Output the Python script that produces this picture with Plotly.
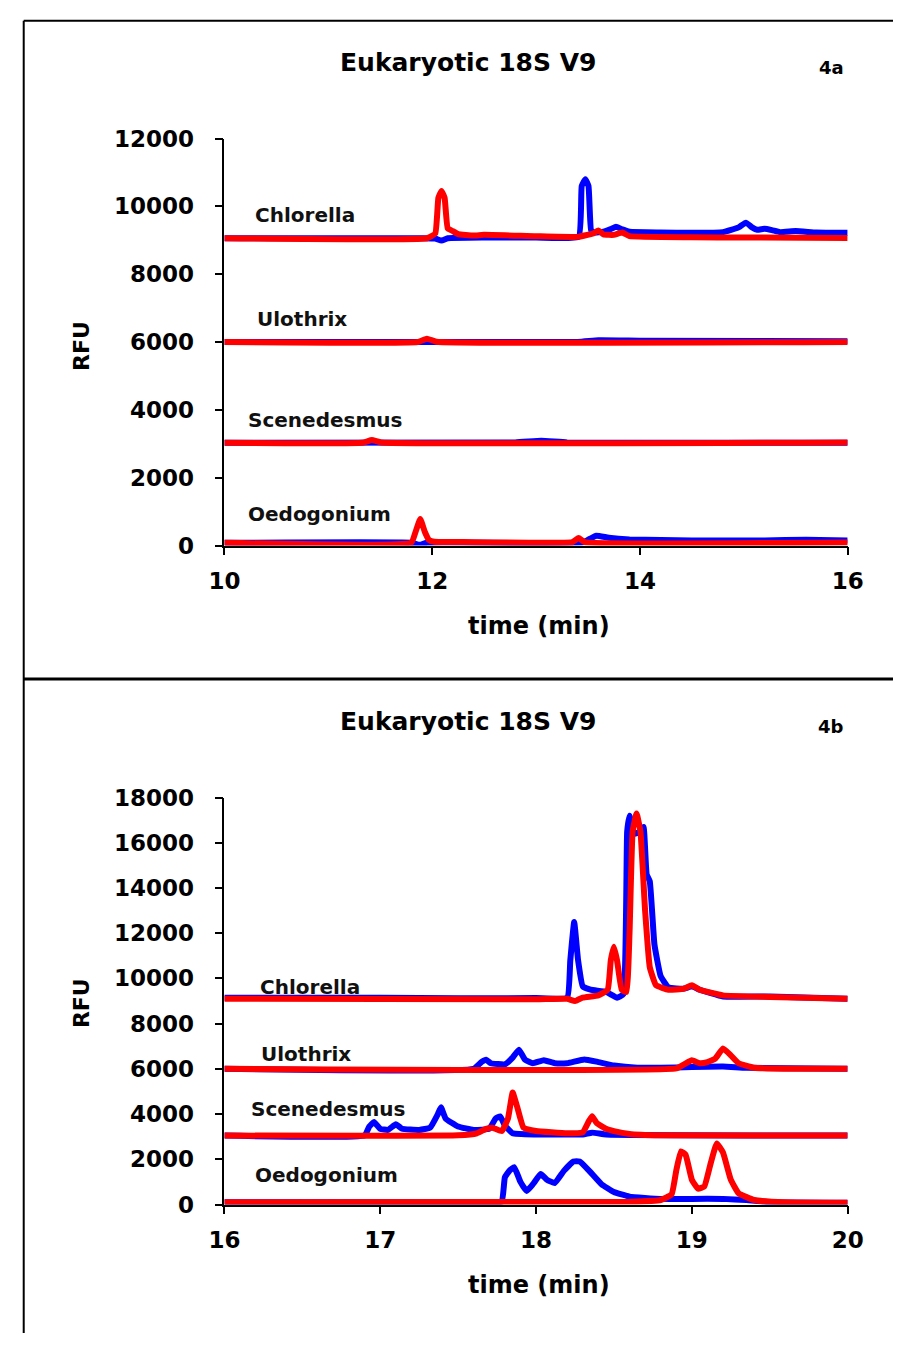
import plotly.graph_objects as go

W, H = 909, 1346

# ---------------- data ----------------
species = ["Chlorella", "Ulothrix", "Scenedesmus", "Oedogonium"]
title_text = "Eukaryotic 18S V9"
panel_tags = ["4a", "4b"]

a_xticks = [10, 12, 14, 16]
a_yticks = [0, 2000, 4000, 6000, 8000, 10000, 12000]
b_xticks = [16, 17, 18, 19, 20]
b_yticks = [0, 2000, 4000, 6000, 8000, 10000, 12000, 14000, 16000, 18000]

# Panel 4a (time 10-16 min)
a_chl_blue_t = [10, 11.9, 12.03, 12.09, 12.15, 12.5, 13.0, 13.41, 13.44, 13.475, 13.505, 13.53, 13.56, 13.65, 13.72, 13.77, 13.83, 13.9, 14.2, 14.5, 14.8, 14.95, 15.02, 15.08, 15.13, 15.2, 15.27, 15.35, 15.5, 15.7, 16.0]
a_chl_blue_v = [9060, 9060, 9050, 8990, 9060, 9080, 9080, 9100, 10600, 10800, 10600, 9300, 9230, 9250, 9330, 9400, 9320, 9250, 9230, 9220, 9240, 9380, 9520, 9380, 9310, 9340, 9300, 9240, 9270, 9230, 9220]
a_chl_red_t = [10, 11.95, 12.03, 12.06, 12.09, 12.12, 12.15, 12.2, 12.25, 12.4, 12.5, 13.0, 13.4, 13.55, 13.6, 13.65, 13.75, 13.83, 13.9, 14.5, 15.0, 16.0]
a_chl_red_v = [9060, 9060, 9200, 10250, 10450, 10250, 9350, 9270, 9180, 9140, 9160, 9120, 9100, 9200, 9290, 9170, 9160, 9230, 9120, 9090, 9080, 9070]
a_ulo_blue_t = [10, 13.4, 13.6, 14.0, 16]
a_ulo_blue_v = [6000, 6000, 6050, 6040, 6020]
a_ulo_red_t = [10, 11.86, 11.95, 12.04, 16]
a_ulo_red_v = [6000, 6000, 6100, 6010, 6000]
a_sce_blue_t = [10, 12.8, 13.05, 13.3, 16]
a_sce_blue_v = [3030, 3040, 3090, 3040, 3030]
a_sce_red_t = [10, 11.33, 11.42, 11.51, 16]
a_sce_red_v = [3030, 3030, 3110, 3040, 3040]
a_oed_blue_t = [10, 11.8, 11.88, 11.95, 13.45, 13.52, 13.58, 13.7, 13.9, 14.5, 15.2, 15.6, 16]
a_oed_blue_v = [80, 80, 20, 80, 90, 200, 290, 230, 180, 150, 150, 170, 150]
a_oed_red_t = [10, 11.8, 11.84, 11.885, 11.93, 11.97, 12.02, 12.3, 13.35, 13.41, 13.47, 16]
a_oed_red_v = [80, 90, 400, 780, 400, 160, 110, 100, 100, 220, 100, 90]

# Panel 4b (time 16-20 min)
b_chl_blue_t = [16, 17, 17.5, 18.0, 18.2, 18.22, 18.245, 18.27, 18.3, 18.35, 18.45, 18.52, 18.56, 18.585, 18.6, 18.63, 18.67, 18.69, 18.71, 18.73, 18.76, 18.8, 18.85, 18.95, 19.0, 19.05, 19.2, 19.5, 20]
b_chl_blue_v = [9150, 9150, 9120, 9130, 9150, 10800, 12500, 10800, 9650, 9500, 9400, 9150, 9300, 16500, 17200, 16400, 16500, 16700, 14600, 14300, 11500, 10100, 9600, 9550, 9650, 9500, 9200, 9200, 9100]
b_chl_red_t = [16, 18.0, 18.2, 18.25, 18.3, 18.4, 18.46, 18.48, 18.5, 18.52, 18.55, 18.58, 18.6, 18.62, 18.645, 18.67, 18.7, 18.73, 18.77, 18.85, 18.95, 19.0, 19.05, 19.2, 19.5, 20]
b_chl_red_v = [9100, 9080, 9100, 9000, 9150, 9250, 9500, 10800, 11400, 10800, 9500, 9400, 12000, 16500, 17300, 16500, 13000, 10500, 9700, 9500, 9550, 9700, 9500, 9250, 9180, 9100]
b_ulo_blue_t = [16, 17.6, 17.65, 17.68, 17.71, 17.8, 17.85, 17.89, 17.93, 17.98, 18.05, 18.12, 18.2, 18.31, 18.4, 18.5, 18.65, 18.8, 19.0, 19.2, 19.35, 20]
b_ulo_blue_v = [6000, 6000, 6300, 6400, 6250, 6200, 6500, 6850, 6400, 6250, 6380, 6250, 6250, 6420, 6300, 6150, 6050, 6050, 6080, 6100, 6050, 6000]
b_ulo_red_t = [16, 18.9, 18.95, 19.0, 19.05, 19.1, 19.15, 19.2, 19.25, 19.3, 19.4, 20]
b_ulo_red_v = [6000, 6020, 6200, 6380, 6250, 6300, 6450, 6900, 6600, 6250, 6050, 6000]
b_sce_blue_t = [16, 16.9, 16.93, 16.96, 17.0, 17.05, 17.1, 17.14, 17.25, 17.32, 17.37, 17.39, 17.42, 17.5, 17.6, 17.7, 17.74, 17.77, 17.8, 17.85, 18.0, 18.3, 18.36, 18.45, 20]
b_sce_blue_v = [3050, 3060, 3450, 3650, 3350, 3300, 3550, 3350, 3300, 3400, 4000, 4300, 3800, 3450, 3300, 3350, 3800, 3900, 3500, 3150, 3100, 3100, 3180, 3100, 3050]
b_sce_red_t = [16, 17.5, 17.62, 17.68, 17.72, 17.78, 17.82, 17.85, 17.88, 17.92, 18.0, 18.2, 18.3, 18.34, 18.36, 18.39, 18.45, 18.5, 18.6, 18.8, 20]
b_sce_red_v = [3050, 3060, 3150, 3350, 3400, 3250, 3800, 4950, 4300, 3400, 3250, 3150, 3200, 3700, 3900, 3600, 3350, 3250, 3120, 3060, 3050]
b_oed_blue_t = [16, 17.7, 17.78, 17.8, 17.83, 17.86, 17.9, 17.94, 17.98, 18.03, 18.07, 18.12, 18.18, 18.24, 18.28, 18.34, 18.42, 18.5, 18.6, 18.8, 19.0, 19.2, 19.35, 19.5, 20]
b_oed_blue_v = [100, 100, 120, 1200, 1500, 1650, 1000, 600, 900, 1350, 1100, 950, 1500, 1900, 1900, 1500, 900, 550, 350, 250, 250, 250, 200, 100, 80]
b_oed_red_t = [16, 18.6, 18.8, 18.87, 18.9, 18.93, 18.96, 19.0, 19.04, 19.08, 19.12, 19.16, 19.2, 19.25, 19.3, 19.4, 19.6, 20]
b_oed_red_v = [100, 120, 200, 450, 1500, 2350, 2200, 1100, 700, 800, 1800, 2700, 2300, 1100, 500, 200, 100, 80]

# ---------------- figure ----------------
BLUE = "#0000ff"
RED = "#ff0000"
LW = 6

def px(x):
    return x / W

def py(y):
    return 1 - y / H

fig = go.Figure()

panel_a = {
    "blue": [(a_chl_blue_t, a_chl_blue_v), (a_ulo_blue_t, a_ulo_blue_v), (a_sce_blue_t, a_sce_blue_v), (a_oed_blue_t, a_oed_blue_v)],
    "red": [(a_chl_red_t, a_chl_red_v), (a_ulo_red_t, a_ulo_red_v), (a_sce_red_t, a_sce_red_v), (a_oed_red_t, a_oed_red_v)],
}
panel_b = {
    "blue": [(b_chl_blue_t, b_chl_blue_v), (b_ulo_blue_t, b_ulo_blue_v), (b_sce_blue_t, b_sce_blue_v), (b_oed_blue_t, b_oed_blue_v)],
    "red": [(b_chl_red_t, b_chl_red_v), (b_ulo_red_t, b_ulo_red_v), (b_sce_red_t, b_sce_red_v), (b_oed_red_t, b_oed_red_v)],
}

for panel, xa, ya in [(panel_a, "x", "y"), (panel_b, "x2", "y2")]:
    for col, color in [("blue", BLUE), ("red", RED)]:
        for name, (t, v) in zip(species, panel[col]):
            fig.add_trace(go.Scatter(
                x=t, y=v, mode="lines", xaxis=xa, yaxis=ya, name=name,
                line=dict(color=color, width=LW, shape="spline", smoothing=0.35),
                showlegend=False, hoverinfo="skip"))

tickfont = dict(family="DejaVu Sans", size=23, color="black", weight="bold")
axis_common = dict(showline=True, linecolor="black", linewidth=1.5, ticks="outside",
                   ticklen=8, tickwidth=1.5, tickcolor="black", showgrid=False,
                   zeroline=False, tickfont=tickfont, fixedrange=True, tickformat="d")

xdom = [px(216), px(862)]
fig.update_layout(
    width=W, height=H, margin=dict(l=0, r=0, t=0, b=0),
    paper_bgcolor="white", plot_bgcolor="white",
    xaxis=dict(domain=xdom, range=[10, 16], tickvals=a_xticks, anchor="y",
               ticklabelstandoff=6, **axis_common),
    yaxis=dict(domain=[py(543), py(128)], range=[0, 12000], tickvals=a_yticks, anchor="x",
               ticklabelstandoff=16, **axis_common),
    xaxis2=dict(domain=xdom, range=[16, 20], tickvals=b_xticks, anchor="y2",
                ticklabelstandoff=6, **axis_common),
    yaxis2=dict(domain=[py(1215), py(800)], range=[0, 18000], tickvals=b_yticks, anchor="x2",
                ticklabelstandoff=16, **axis_common),
)

bold = lambda s, c="black": dict(family="DejaVu Sans", size=s, color=c, weight="bold")
ann = []
for ty, tag_y, rfu_y, time_y, tag in [(50, 56, 340, 625, panel_tags[0]), (722, 728, 1010, 1297, panel_tags[1])]:
    ann.append(dict(x=px(468), y=py(ty), xref="paper", yref="paper", text=title_text,
                    showarrow=False, xanchor="center", yanchor="middle", font=bold(25)))
    ann.append(dict(x=px(845), y=py(tag_y), xref="paper", yref="paper", text=tag,
                    showarrow=False, xanchor="center", yanchor="middle", font=bold(18)))
    ann.append(dict(x=px(68), y=py(rfu_y), xref="paper", yref="paper", text="RFU", textangle=-90,
                    showarrow=False, xanchor="center", yanchor="middle", font=bold(22)))
    ann.append(dict(x=px(542), y=py(time_y), xref="paper", yref="paper", text="time (min)",
                    showarrow=False, xanchor="center", yanchor="middle", font=bold(24)))

label_pos_a = [(246, 206), (248, 312), (238, 415), (238, 511)]
label_pos_b = [(251, 993), (252, 1062), (242, 1118), (246, 1185)]
for name, (lx, ly) in zip(species, label_pos_a):
    ann.append(dict(x=px(lx), y=py(ly), xref="paper", yref="paper", text=name, showarrow=False,
                    xanchor="left", yanchor="middle", font=bold(20, "#111111")))
for name, (lx, ly) in zip(species, label_pos_b):
    ann.append(dict(x=px(lx), y=py(ly), xref="paper", yref="paper", text=name, showarrow=False,
                    xanchor="left", yanchor="middle", font=bold(20, "#111111")))
fig.update_layout(annotations=ann)

shapes = [
    dict(type="line", xref="paper", yref="paper", x0=px(8), x1=1, y0=py(8), y1=py(8), line=dict(color="black", width=2)),
    dict(type="line", xref="paper", yref="paper", x0=px(8), x1=px(8), y0=py(8), y1=0, line=dict(color="black", width=2)),
    dict(type="line", xref="paper", yref="paper", x0=px(8), x1=1, y0=py(679), y1=py(679), line=dict(color="black", width=3)),
]
fig.update_layout(shapes=shapes)

fig.write_html("out.html")
